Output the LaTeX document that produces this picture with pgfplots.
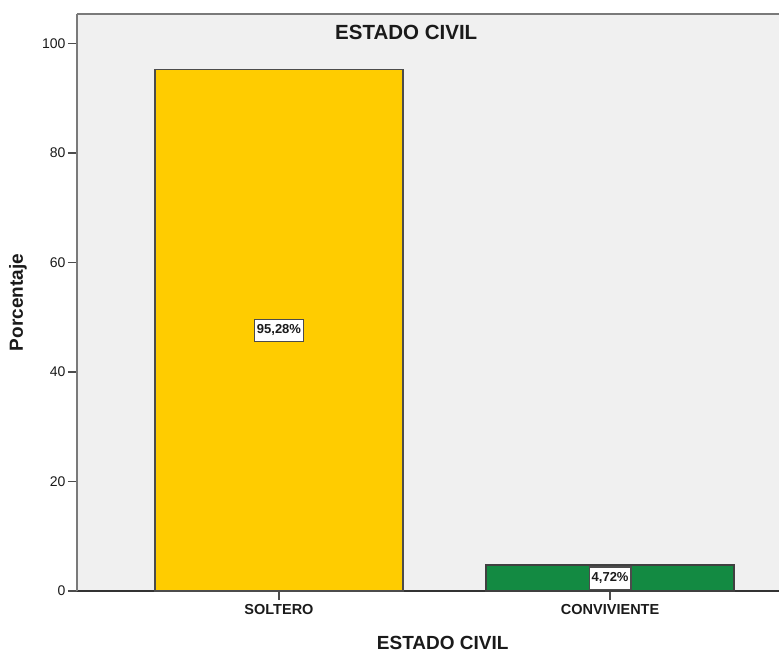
\documentclass[border=0pt]{standalone}
\usepackage{fontspec}
\setmainfont{Liberation Sans}
\usepackage{pgfplots}
\pgfplotsset{compat=1.18}
\definecolor{bgc}{HTML}{F0F0F0}
\definecolor{yel}{HTML}{FFCC00}
\definecolor{grn}{HTML}{138A42}
\definecolor{axc}{HTML}{7A7A7A}
\definecolor{txt}{HTML}{1A1A1A}
\begin{document}
\begin{tikzpicture}
\begin{axis}[
  at={(0pt,0pt)}, anchor=south west,
  scale only axis, width=702pt, height=577pt,
  xmin=-0.61, xmax=1.51, ymin=0, ymax=105.4,
  axis x line*=bottom, axis y line*=left,
  axis background/.style={fill=bgc},
  x axis line style={draw=black!80, line width=1.5pt},
  y axis line style={draw=axc, line width=2.5pt},
  xtick={0,1}, xticklabels={SOLTERO,CONVIVIENTE},
  ytick={0,20,40,60,80,100},
  tick align=outside, major tick length=9pt,
  tick style={draw=black!70, line width=1.5pt},
  /pgf/number format/assume math mode=true,
  yticklabel style={font=\fontsize{14}{16}\selectfont, text=txt, xshift=1pt},
  xticklabel style={font=\bfseries\fontsize{14.5}{16}\selectfont, text=txt, yshift=-1pt},
  xlabel={ESTADO CIVIL}, ylabel={Porcentaje},
  xlabel style={at={(axis description cs:0.521,-0.090)}, anchor=center, font=\bfseries\fontsize{19}{22}\selectfont, text=txt},
  ylabel style={at={(axis description cs:-0.084,0.5)}, anchor=center, font=\bfseries\fontsize{19}{22}\selectfont, text=txt},
  title={ESTADO CIVIL},
  title style={at={(axis description cs:0.469,0.958)}, anchor=center, font=\bfseries\fontsize{20.5}{24}\selectfont, text=txt},
  clip=false,
]
\addplot[ybar, bar width=248pt, bar shift=0pt, fill=yel, draw=black!70, line width=1.6pt] coordinates {(0,95.28)};
\addplot[ybar, bar width=248pt, bar shift=0pt, fill=grn, draw=black!75, line width=1.6pt] coordinates {(1,4.72)};
\addplot[only marks, mark=none, point meta=explicit symbolic, nodes near coords,
  nodes near coords style={anchor=center, fill=white, draw=black!70, line width=1.2pt, inner xsep=2.5pt, inner ysep=5.5pt, font=\bfseries\fontsize{13}{14}\selectfont, text=txt}]
  coordinates {(0,47.64) [95,28\%] (1,2.36) [4,72\%]};
\draw[axc, line width=2.5pt] (axis description cs:0,1) -- (axis description cs:1,1);
\end{axis}
\pgfresetboundingbox
\path (-77pt,-62pt) rectangle (702pt,591pt);
\end{tikzpicture}
\end{document}
